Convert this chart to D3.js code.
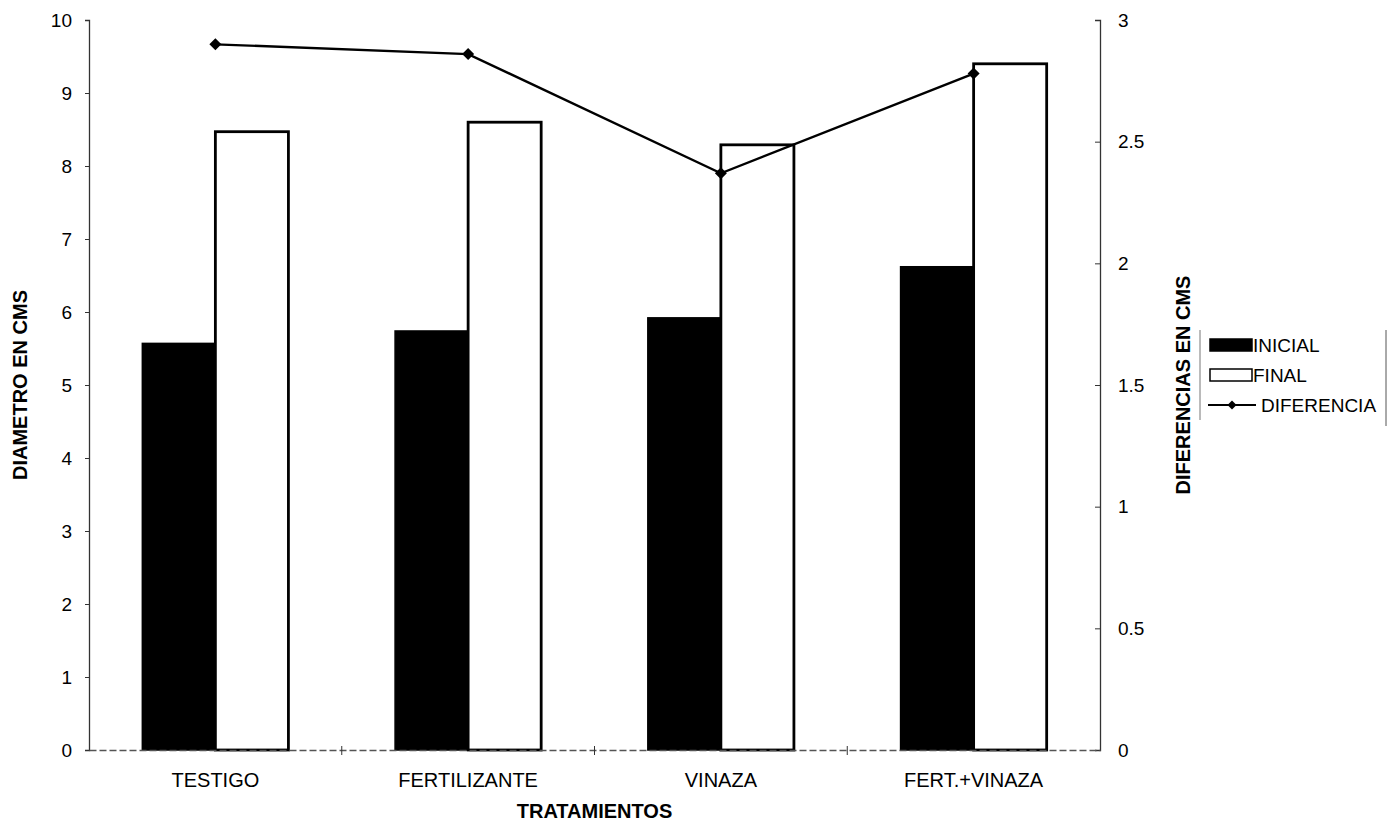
<!DOCTYPE html>
<html>
<head>
<meta charset="utf-8">
<script src="https://cdn.jsdelivr.net/npm/d3@7"></script>
<style>
  html, body { margin: 0; padding: 0; background: #fff; }
  svg { display: block; }
  svg text { font-family: Arial, "Liberation Sans", sans-serif; }
</style>
</head>
<body>
<svg id="chart" width="1388" height="826"></svg>
<script>
// Treatments and measured stem diameters (cm)
const categories = ["TESTIGO", "FERTILIZANTE", "VINAZA", "FERT.+VINAZA"];
const inicial = [5.57, 5.74, 5.92, 6.62];
const final = [8.47, 8.60, 8.29, 9.40];
const diferencia = [2.90, 2.86, 2.37, 2.78];
const leftTicks = [0, 1, 2, 3, 4, 5, 6, 7, 8, 9, 10];
const rightTicks = [0, 0.5, 1, 1.5, 2, 2.5, 3];

const svg = d3.select("#chart");
const plot = { left: 89, right: 1100, top: 20, bottom: 750 };

const x = d3.scaleBand().domain(categories).range([plot.left, plot.right]).paddingInner(0).paddingOuter(0);
const yL = d3.scaleLinear().domain([0, 10]).range([plot.bottom, plot.top]);
const yR = d3.scaleLinear().domain([0, 3]).range([plot.bottom, plot.top]);

const groupW = x.bandwidth() * 0.578;
const barW = groupW / 2;

// Bars
const g = svg.append("g");
categories.forEach((c, i) => {
  const x0 = x(c) + (x.bandwidth() - groupW) / 2;
  g.append("rect")
    .attr("x", x0).attr("y", yL(inicial[i]))
    .attr("width", barW).attr("height", yL(0) - yL(inicial[i]))
    .attr("fill", "#000").attr("stroke", "#000").attr("stroke-width", 1.5);
  g.append("rect")
    .attr("x", x0 + barW).attr("y", yL(final[i]))
    .attr("width", barW).attr("height", yL(0) - yL(final[i]))
    .attr("fill", "#fff").attr("stroke", "#000").attr("stroke-width", 2.8);
});

// Axes
const axisColor = "#333";
const left = svg.append("g").attr("transform", `translate(${plot.left},0)`)
  .call(d3.axisLeft(yL).tickValues(leftTicks).tickSize(4).tickPadding(13).tickFormat(d3.format("d")));
const right = svg.append("g").attr("transform", `translate(${plot.right},0)`)
  .call(d3.axisRight(yR).tickValues(rightTicks).tickSize(-5).tickPadding(18)
    .tickFormat(d => d % 1 === 0 ? d3.format("d")(d) : d3.format(".1f")(d)));
const bottom = svg.append("g").attr("transform", `translate(0,${plot.bottom})`)
  .call(d3.axisBottom(x).tickSize(0).tickPadding(23));

[left, right, bottom].forEach(a => {
  a.attr("font-family", null);
  a.select(".domain").attr("stroke", axisColor).attr("stroke-width", 1.3);
  a.selectAll(".tick line").attr("stroke", axisColor);
  a.selectAll("text").attr("fill", "#000").attr("font-size", null);
});
left.selectAll("text").style("font-size", "19px");
right.selectAll("text").style("font-size", "19px");
bottom.selectAll("text").style("font-size", "20px");
bottom.select(".domain").attr("stroke-dasharray", "7,3").attr("stroke", "#555");

// Category separators on the x axis
bottom.selectAll(".sep").data(categories.slice(1)).enter().append("line")
  .attr("x1", d => x(d)).attr("x2", d => x(d))
  .attr("y1", -4).attr("y2", 5).attr("stroke", axisColor);

// Difference line with diamond markers
const cx = i => x(categories[i]) + x.bandwidth() / 2;
const lineGen = d3.line().x((d, i) => cx(i)).y(d => yR(d));
svg.append("path").datum(diferencia)
  .attr("d", lineGen).attr("fill", "none").attr("stroke", "#000").attr("stroke-width", 2.4);
svg.selectAll(".pt").data(diferencia).enter().append("path")
  .attr("d", d3.symbol(d3.symbolSquare, 72))
  .attr("transform", (d, i) => `translate(${cx(i)},${yR(d)}) rotate(45)`)
  .attr("fill", "#000");

// Axis titles
svg.append("text").attr("transform", `translate(27,${(plot.top + plot.bottom) / 2}) rotate(-90)`)
  .attr("text-anchor", "middle").style("font-size", "20px").style("font-weight", "bold").text("DIAMETRO EN CMS");
svg.append("text").attr("transform", `translate(1190,${(plot.top + plot.bottom) / 2}) rotate(-90)`)
  .attr("text-anchor", "middle").style("font-size", "20px").style("font-weight", "bold").text("DIFERENCIAS EN CMS");
svg.append("text").attr("x", (plot.left + plot.right) / 2).attr("y", 818)
  .attr("text-anchor", "middle").style("font-size", "20px").style("font-weight", "bold").text("TRATAMIENTOS");

// Legend
const lg = svg.append("g").attr("transform", "translate(1200,330)");
lg.append("line").attr("x1", 0).attr("x2", 0).attr("y1", 0).attr("y2", 90).attr("stroke", "#777");
lg.append("line").attr("x1", 186).attr("x2", 186).attr("y1", 0).attr("y2", 96).attr("stroke", "#555");
const items = [
  { name: "INICIAL", type: "black" },
  { name: "FINAL", type: "white" },
  { name: "DIFERENCIA", type: "line" }
];
items.forEach((it, i) => {
  const cy = 15 + i * 30;
  if (it.type === "line") {
    lg.append("line").attr("x1", 8).attr("x2", 56).attr("y1", cy).attr("y2", cy).attr("stroke", "#000").attr("stroke-width", 1.8);
    lg.append("path").attr("d", d3.symbol(d3.symbolSquare, 40)).attr("transform", `translate(32,${cy}) rotate(45)`).attr("fill", "#000");
  } else {
    lg.append("rect").attr("x", 10).attr("y", cy - 6).attr("width", 42).attr("height", 12)
      .attr("fill", it.type === "black" ? "#000" : "#fff").attr("stroke", "#000").attr("stroke-width", 1.5);
  }
  lg.append("text").attr("x", it.type === "line" ? 61 : 53).attr("y", cy + 7)
    .style("font-size", "19px").text(it.name);
});
</script>
</body>
</html>
